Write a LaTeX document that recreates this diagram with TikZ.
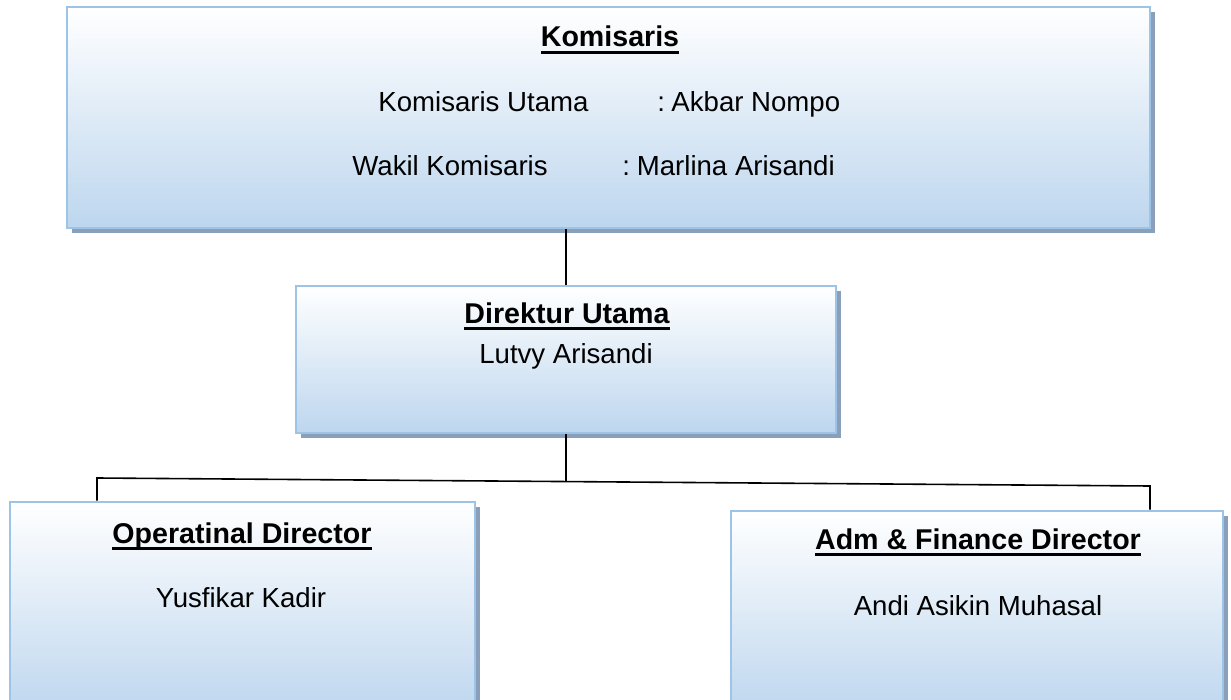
\documentclass[tikz,border=0pt]{standalone}
\usepackage{fontspec}
\setmainfont{Liberation Sans}
\usetikzlibrary{shadows}
\definecolor{boxline}{RGB}{157,195,230}
\definecolor{boxfill}{RGB}{189,214,238}
\definecolor{boxshadow}{RGB}{138,160,186}
\newcommand{\headul}[1]{\setbox0=\hbox{#1}\rlap{\vrule width \wd0 height -2pt depth 3.3pt}\box0}
\begin{document}
\begin{tikzpicture}[x=0.5pt,y=-0.5pt,
  orgbox/.style={rectangle,draw=boxline,line width=1.3pt,top color=white,bottom color=boxfill,
    drop shadow={shadow xshift=2.5pt,shadow yshift=-2.5pt,fill=boxshadow,opacity=1},inner sep=0pt},
  head/.style={font=\fontsize{14.3}{17}\selectfont\bfseries,inner sep=0pt},
  body/.style={font=\fontsize{13.8}{16}\selectfont,inner sep=0pt}]
\useasboundingbox (0,0) rectangle (1231,700);
\clip (0,0) rectangle (1231,700);

\node[orgbox,minimum width=541.5pt,minimum height=110.5pt] (kom) at (608.5,117.5) {};
\node[orgbox,minimum width=270pt,minimum height=73.5pt] (dir) at (566,359.5) {};
\node[orgbox,minimum width=232.5pt,minimum height=106.5pt] (op) at (242.5,608.5) {};
\node[orgbox,minimum width=246pt,minimum height=102pt] (adm) at (977,613) {};

\node[head,anchor=base] (komT) at (610,47) {\headul{Komisaris}};
\node[body,anchor=base west] (kuLabel) at (378,112) {Komisaris Utama};
\node[body,anchor=base west] (kuName) at (657,112) {:\hspace{3.2pt}Akbar Nompo};
\node[body,anchor=base west] (wkLabel) at (352,176) {Wakil Komisaris};
\node[body,anchor=base west] (wkName) at (622,176) {:\hspace{3.4pt}Marlina Arisandi};

\node[head,anchor=base] (dirT) at (567,323) {\headul{Direktur Utama}};
\node[body,anchor=base] (dirN) at (566,363) {Lutvy Arisandi};

\node[head,anchor=base] (opT) at (242,543) {\headul{Operatinal Director}};
\node[body,anchor=base] (opN) at (241,607) {Yusfikar Kadir};

\node[head,anchor=base] (admT) at (978,549) {\headul{Adm \& Finance Director}};
\node[body,anchor=base] (admN) at (978,615) {Andi Asikin Muhasal};

\coordinate (lj) at (97,478);
\coordinate (rj) at (1150,486);
\coordinate (mj) at (566,481.6);
\draw[line width=0.8pt] (dir.north) -- (dir.north |- kom.south);
\draw[line width=0.8pt] (dir.south) -- (mj);
\draw[line width=0.8pt] (lj |- op.north) -- (lj) -- (rj) -- (rj |- adm.north);
\end{tikzpicture}
\end{document}
